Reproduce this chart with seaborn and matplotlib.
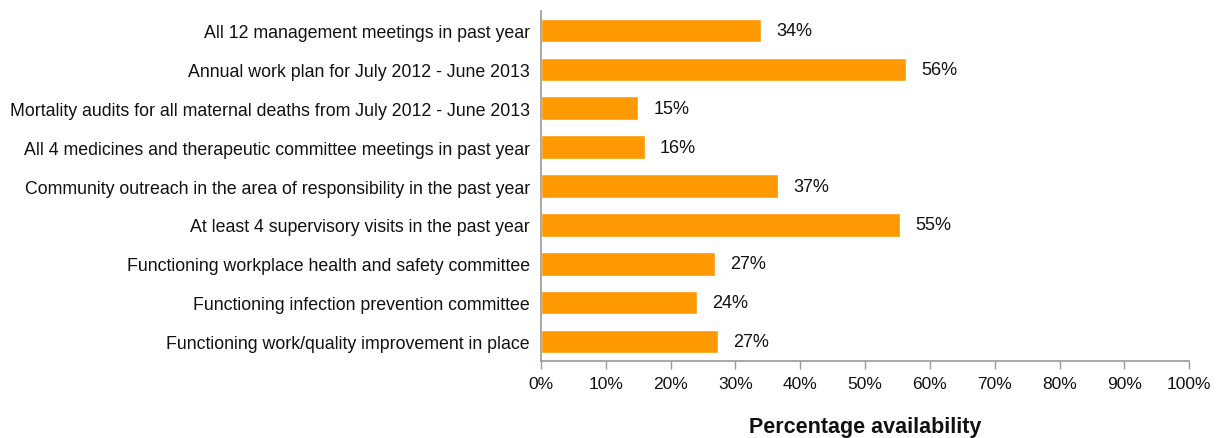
import numpy as np
import pandas as pd
import matplotlib
matplotlib.use("Agg")
import matplotlib.pyplot as plt
import seaborn as sns
from matplotlib.ticker import PercentFormatter

categories = [
    "All 12 management meetings in past year",
    "Annual work plan for July 2012 - June 2013",
    "Mortality audits for all maternal deaths from July 2012 - June 2013",
    "All 4 medicines and therapeutic committee meetings in past year",
    "Community outreach in the area of responsibility in the past year",
    "At least 4 supervisory visits in the past year",
    "Functioning workplace health and safety committee",
    "Functioning infection prevention committee",
    "Functioning work/quality improvement in place",
]
values = [34.0, 56.3, 15.0, 16.0, 36.6, 55.4, 26.9, 24.1, 27.3]
x_ticks = list(range(0, 101, 10))

df = pd.DataFrame({"item": categories, "pct": values})

sns.set_theme(style="white")
plt.rcParams['font.family'] = ['Liberation Sans', 'DejaVu Sans']

fig, ax = plt.subplots(figsize=(12.21, 4.39), dpi=100)
fig.subplots_adjust(left=0.443, right=0.974, top=0.973, bottom=0.175)

sns.barplot(data=df, x="pct", y="item", color="#FF9900", saturation=1,
            width=0.6, ax=ax)

for container in ax.containers:
    ax.bar_label(container, labels=[f"{v:.0f}%" for v in values],
                 padding=11, fontsize=13, color="#111111")

ax.set_xlim(0, 100)
ax.set_xticks(x_ticks)
ax.xaxis.set_major_formatter(PercentFormatter(decimals=0))
ax.set_ylabel("")
ax.set_xlabel("Percentage availability", fontsize=15.5, fontweight="bold",
              labelpad=18, color="#111111")
ax.tick_params(axis="x", labelsize=12.5, bottom=True, direction="out",
               length=6, width=1, color="#999999", pad=5, labelcolor="#111111")
ax.tick_params(axis="y", labelsize=12.8, left=False, pad=2, labelcolor="#111111")

for side in ["top", "right"]:
    ax.spines[side].set_visible(False)
for side in ["left", "bottom"]:
    ax.spines[side].set_color("#999999")
    ax.spines[side].set_linewidth(1.2)

fig.savefig("out.png", dpi=100)
